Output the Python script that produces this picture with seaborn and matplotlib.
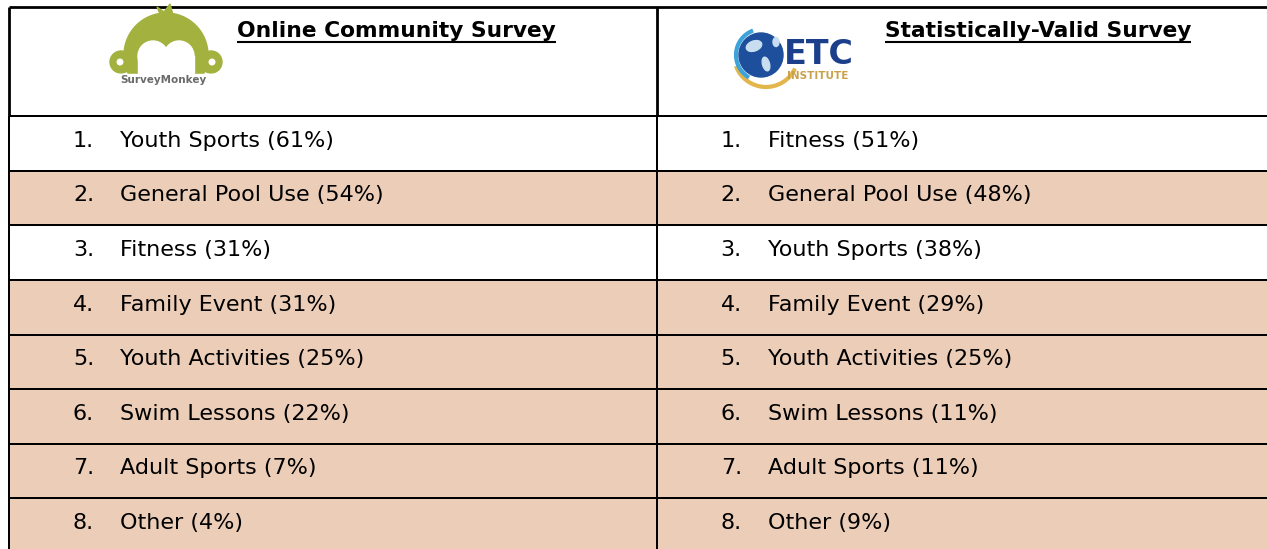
import numpy as np
import pandas as pd
import matplotlib
matplotlib.use("Agg")
import matplotlib.pyplot as plt
from matplotlib.colors import ListedColormap
from matplotlib.patches import Circle, Rectangle, Polygon, Arc, Ellipse
import seaborn as sns

# Donnees du tableau
headers = ["Online Community Survey", "Statistically-Valid Survey"]
online_items = ["Youth Sports", "General Pool Use", "Fitness", "Family Event",
                "Youth Activities", "Swim Lessons", "Adult Sports", "Other"]
online_pct = [61, 54, 31, 31, 25, 22, 7, 4]
etc_items = ["Fitness", "General Pool Use", "Youth Sports", "Family Event",
             "Youth Activities", "Swim Lessons", "Adult Sports", "Other"]
etc_pct = [51, 48, 38, 29, 25, 11, 11, 9]
row_shaded = [0, 1, 0, 1, 1, 1, 1, 1]

# Mise en page (pixels)
W, H = 1267, 549
left_px, top_px = 9, 7
col_w, row_h = 647.7, 54.6
header_rows = 2
peach = "#ECCDB8"

sns.set_theme(style="white")
plt.rcParams['font.family'] = ['DejaVu Sans']

fig = plt.figure(figsize=(W / 100, H / 100), dpi=100)
ax = fig.add_axes([0, 0, 1, 1])

# Corps du tableau : une heatmap 8 x 2 pour le fond des lignes
shade = pd.DataFrame({"online": row_shaded, "etc": row_shaded})
sns.heatmap(shade, ax=ax, cmap=ListedColormap(["white", peach]), vmin=0, vmax=1,
            cbar=False, linewidths=1.4, linecolor="black",
            xticklabels=False, yticklabels=False)

ax.set_xlim(-left_px / col_w, (W - left_px) / col_w)
ax.set_ylim(-header_rows + (H - top_px) / row_h, -header_rows - top_px / row_h)
ax.axis("off")

# Bordures de l'en-tete
ax.hlines(-header_rows, 0, 2.2, color="black", lw=2.0, clip_on=False)
ax.vlines([0, 1], -header_rows, 0, color="black", lw=2.0)

# Textes des lignes
num_x = (73 - left_px) / col_w
txt_x = (120 - left_px) / col_w
for col, (items, pct) in enumerate([(online_items, online_pct), (etc_items, etc_pct)]):
    for i, (name, p) in enumerate(zip(items, pct)):
        y = i + 0.56
        ax.text(col + num_x, y, f"{i + 1}.", fontsize=16, va="baseline", ha="left", color="black")
        ax.text(col + txt_x, y, f"{name} ({p}%)", fontsize=16, va="baseline", ha="left", color="black")

# Titres soulignes
head_x = (237 - left_px) / col_w
head_y = -header_rows + (37 - top_px) / row_h
under_y = -header_rows + (42 - top_px) / row_h
titles = []
for col, h in enumerate(headers):
    t = ax.text(col + head_x, head_y, h, fontsize=15.7, fontweight="bold",
                va="baseline", ha="left", color="black")
    titles.append(t)

fig.canvas.draw()
renderer = fig.canvas.get_renderer()
inv = ax.transData.inverted()
for t in titles:
    bb = t.get_window_extent(renderer)
    (x0, _), (x1, _) = inv.transform([[bb.x0, bb.y0], [bb.x1, bb.y0]])
    ax.hlines(under_y, x0, x1, color="black", lw=1.5)

# Logos (axes en pixels)
lx = fig.add_axes([0, 0, 1, 1])
lx.set_xlim(0, W)
lx.set_ylim(H, 0)
lx.axis("off")
lx.patch.set_alpha(0)

olive = "#A3B23E"
lx.add_patch(Polygon([(161, 16), (157, 7), (164, 12), (170, 4), (173, 15)], color=olive))
lx.add_patch(Circle((121, 62), 11, color=olive))
lx.add_patch(Circle((211, 62), 11, color=olive))
lx.add_patch(Circle((166, 55), 42, color=olive))
lx.add_patch(Rectangle((105, 74), 120, 25, color="white"))
lx.add_patch(Circle((120, 62), 2.8, color="white"))
lx.add_patch(Circle((212, 62), 2.8, color="white"))
lx.add_patch(Circle((153, 56), 15, color="white"))
lx.add_patch(Circle((179, 56), 15, color="white"))
lx.add_patch(Rectangle((138, 56), 56, 20, color="white"))
lx.text(163, 80, "SurveyMonkey", fontsize=7.5, fontweight="bold", color="#6A6A6A",
        ha="center", va="center")

lx.add_patch(Arc((766, 55), 64, 64, theta1=25, theta2=160, color="#E2B64A", lw=3))
lx.add_patch(Arc((762, 55), 52, 52, theta1=120, theta2=250, color="#3BA3DA", lw=3))
lx.add_patch(Circle((761, 55), 22, color="#1D4F9C"))
lx.add_patch(Ellipse((754, 46), 16, 10, angle=-20, color="#C9DDF0"))
lx.add_patch(Ellipse((766, 64), 7, 14, angle=-15, color="#C9DDF0"))
lx.add_patch(Ellipse((776, 42), 6, 9, color="#C9DDF0"))
lx.text(784, 64, "ETC", fontsize=24, fontweight="bold", color="#1B3F8B",
        ha="left", va="baseline")
lx.text(787, 79, "INSTITUTE", fontsize=7.5, fontweight="bold", color="#C9A14A",
        ha="left", va="baseline")

fig.savefig("out.png", dpi=100)
